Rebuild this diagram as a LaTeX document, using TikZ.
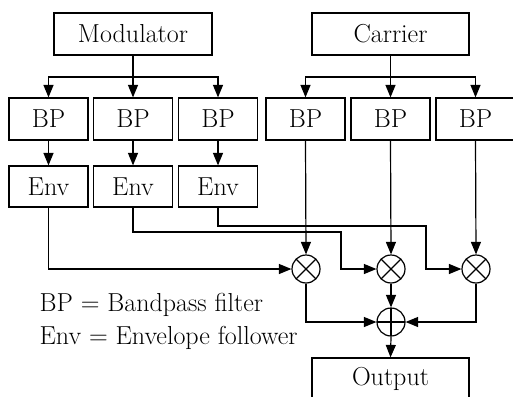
\documentclass[tikz,border=0pt]{standalone}
\usetikzlibrary{arrows.meta}
\begin{document}
\begin{tikzpicture}[x=1pt,y=-1pt,
  font=\fontsize{26}{31}\selectfont,
  every path/.style={line width=1.2pt},
  blk/.style={draw, line width=1.2pt, minimum height=42pt, inner sep=0pt},
  small/.style={blk, minimum width=79pt},
  wide/.style={blk, minimum width=157pt},
  arr/.style={-{Triangle[length=12.5pt,width=10pt]}},
  mult/.style={draw, circle, line width=1.2pt, minimum size=28pt, inner sep=0pt,
    path picture={\draw (path picture bounding box.north west) -- (path picture bounding box.south east)
                        (path picture bounding box.north east) -- (path picture bounding box.south west);}},
  summ/.style={draw, circle, line width=1.2pt, minimum size=28pt, inner sep=0pt,
    path picture={\draw (path picture bounding box.north) -- (path picture bounding box.south)
                        (path picture bounding box.west) -- (path picture bounding box.east);}}
]
\useasboundingbox (0,0) rectangle (513,396);

% source blocks
\node[wide, minimum width=158pt] (mod) at (133,34) {Modulator};
\node[wide] (car) at (390.5,34) {Carrier};

% filter banks
\node[small] (bpm1) at (48.5,119) {BP};
\node[small] (bpm2) at (133,119) {BP};
\node[small] (bpm3) at (218,119) {BP};
\node[small] (bpc1) at (305.5,119) {BP};
\node[small] (bpc2) at (390.5,119) {BP};
\node[small] (bpc3) at (475.5,119) {BP};

% envelope followers
\node[small, minimum height=41pt] (env1) at (48.5,186.5) {Env};
\node[small, minimum height=41pt] (env2) at (133,186.5) {Env};
\node[small, minimum height=41pt] (env3) at (218,186.5) {Env};

% multipliers and adder
\node[mult] (mul1) at (306,269) {};
\node[mult] (mul2) at (391,269) {};
\node[mult] (mul3) at (476,269) {};
\node[summ] (sum) at (391,322) {};

\node[wide] (out) at (390.5,379) {Output};

% legend
\node[anchor=base west, inner sep=0pt] (leg1) at (39,311) {BP = Bandpass filter};
\node[anchor=base west, inner sep=0pt] (leg2) at (39,344) {Env = Envelope follower};

% modulator split
\coordinate (msplit) at (133,77);
\draw (mod.south) -- (msplit);
\draw[arr] (msplit) -| (bpm1.north);
\draw[arr] (msplit) -| (bpm3.north);
\draw[arr] (msplit) -- (bpm2.north);

% carrier split
\coordinate (csplit) at (390.5,77);
\draw (car.south) -- (csplit);
\draw[arr] (csplit) -| (bpc1.north);
\draw[arr] (csplit) -| (bpc3.north);
\draw[arr] (csplit) -- (bpc2.north);

% filter to envelope
\draw[arr] (bpm1) -- (env1);
\draw[arr] (bpm2) -- (env2);
\draw[arr] (bpm3) -- (env3);

% carrier bands to multipliers
\draw[arr] (bpc1.south) -- (mul1.north);
\draw[arr] (bpc2.south) -- (mul2.north);
\draw[arr] (bpc3.south) -- (mul3.north);

% envelopes to multipliers
\draw[arr] (env1.south) |- (mul1.west);
\coordinate (e2turn) at (341,232);
\coordinate (e3turn) at (426,226);
\draw[arr] (env2.south) |- (e2turn) |- (mul2.west);
\draw[arr] (env3.south) |- (e3turn) |- (mul3.west);

% products to adder
\draw[arr] (mul1.south) |- (sum.west);
\draw[arr] (mul3.south) |- (sum.east);
\draw[arr] (mul2.south) -- (sum.north);
\draw[arr] (sum.south) -- (out.north);
\end{tikzpicture}
\end{document}
